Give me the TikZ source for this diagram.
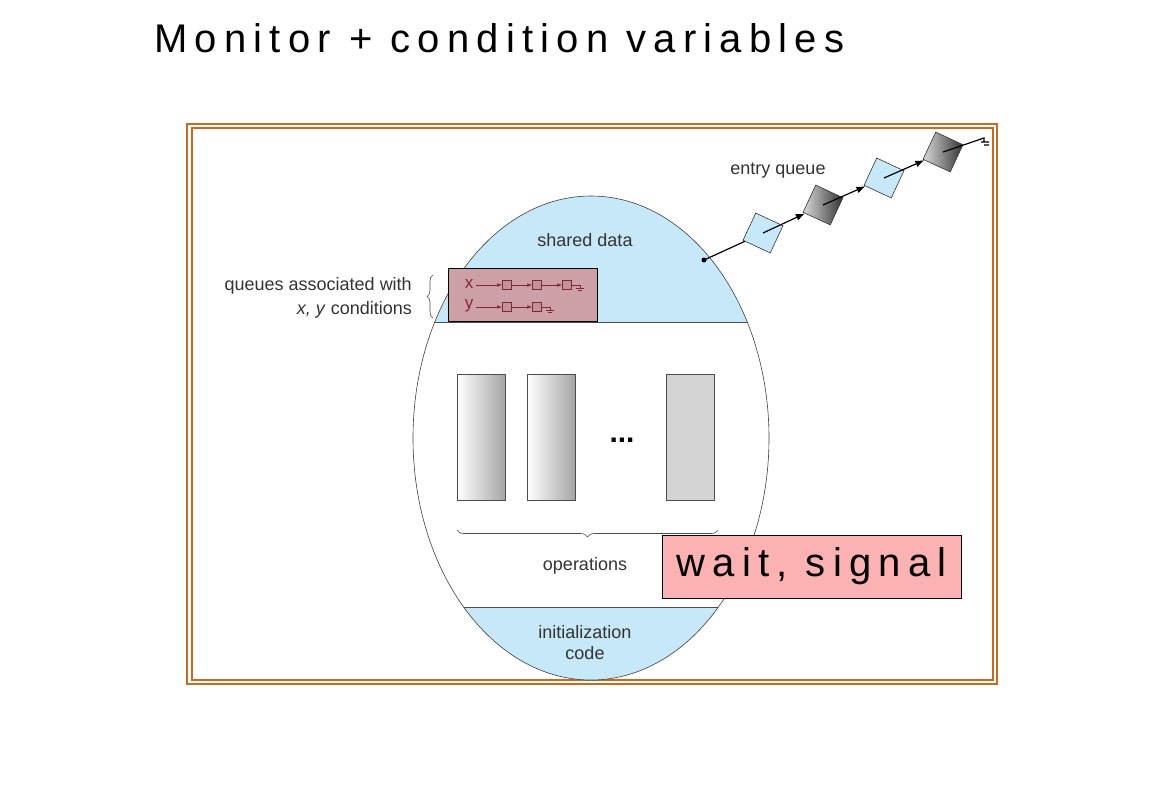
\documentclass[tikz,border=0pt]{standalone}
\usepackage{fontspec}
\setmainfont{Liberation Sans}
\newfontfamily\spaced[LetterSpace=18]{Liberation Sans}
\usetikzlibrary{decorations.pathreplacing,arrows.meta}
\definecolor{lblue}{RGB}{198,232,248}
\definecolor{qpink}{RGB}{205,160,168}
\definecolor{qred}{RGB}{130,40,50}
\definecolor{orng}{RGB}{205,105,30}
\definecolor{wpink}{RGB}{252,178,178}
\begin{document}
\begin{tikzpicture}[x=1pt,y=-1pt,
  lab/.style={font=\fontsize{18}{21}\selectfont, text=black!80, inner sep=0},
  op/.style={draw=black!70, line width=0.6pt, minimum width=48, minimum height=126, inner sep=0},
  eq/.style={draw=black!80, minimum size=30, inner sep=0, rotate=-25, line width=0.6pt},
  qs/.style={draw=qred, fill=qred!50, minimum size=9, inner sep=0, line width=0.5pt},
  qa/.style={-{Latex[length=5pt]}, qred, line width=0.8pt}]
\useasboundingbox (0,0) rectangle (1157,804);
\node[anchor=west, inner sep=0, font=\spaced\fontsize{40}{44}\selectfont] (title) at (154,38) {Monitor + condition variables};
% frame
\draw[orng, line width=1.2pt] (187,124) rectangle (997,684);
\draw[orng, line width=1.2pt] (192,128) rectangle (993,680);
% ellipse
\coordinate (ec) at (591,438);
\begin{scope}
\clip (ec) ellipse [x radius=178, y radius=242];
\fill[white] (ec) ellipse [x radius=178, y radius=242];
\fill[lblue] (400,190) rectangle (780,322);
\fill[lblue] (400,607) rectangle (780,690);
\draw[black!70, line width=0.6pt] (400,322) -- (780,322);
\draw[black!70, line width=0.6pt] (400,607) -- (780,607);
\end{scope}
\draw[black!75, line width=0.6pt] (ec) ellipse [x radius=178, y radius=242];
\node[lab] (sd) at (585,240) {shared data};
\node[lab, align=center] (ic) at (585,643) {initialization\\code};
% operations
\node[op, left color=white, right color=black!35] (o1) at (481,437) {};
\node[op, left color=white, right color=black!35] (o2) at (551,437) {};
\node[op, fill=black!17] (o3) at (690,437) {};
\node[font=\fontsize{30}{30}\selectfont\bfseries, inner sep=0] (dots) at (622,440) {...};
\draw[decorate, decoration={brace, mirror, amplitude=7pt}, black!70, line width=0.6pt] (457,530) -- (718,530);
\node[lab] (ops) at (585,566) {operations};
\node[draw=black, fill=wpink, line width=0.8pt, minimum width=299, minimum height=63, inner sep=0,
  font=\spaced\fontsize{40}{44}\selectfont] (ws) at (811.5,566.5) {wait, signal};
% queues box
\node[draw=black, fill=qpink, line width=1pt, minimum width=149, minimum height=53, inner sep=0] (qb) at (522.5,294.5) {};
\node[font=\fontsize{17}{17}\selectfont, text=qred, inner sep=0] (qx) at (469,284) {x};
\node[font=\fontsize{17}{17}\selectfont, text=qred, inner sep=0] (qy) at (469,306) {y};
\node[qs] (x1) at (507,285) {};
\node[qs] (x2) at (537,285) {};
\node[qs] (x3) at (567,285) {};
\node[qs] (y1) at (507,307) {};
\node[qs] (y2) at (537,307) {};
\draw[qa] (qx.east) ++(3,1) -- (x1);
\draw[qa] (x1) -- (x2);
\draw[qa] (x2) -- (x3);
\draw[qa] (qy.east) ++(3,1) -- (y1);
\draw[qa] (y1) -- (y2);
\draw[qred, line width=0.5pt] (x3.east) -- ++(8,0) -- ++(0,3) ++(-4,0) -- ++(8,0) ++(-6,2) -- ++(4,0);
\draw[qred, line width=0.5pt] (y2.east) -- ++(8,0) -- ++(0,3) ++(-4,0) -- ++(8,0) ++(-6,2) -- ++(4,0);
\node[lab, anchor=east] (qt1) at (412,286) {queues associated with};
\node[lab, anchor=east] (qt2) at (412,310) {\textit{x, y} conditions};
\draw[decorate, decoration={brace, amplitude=6pt}, black!70, line width=0.6pt] (433,318) -- (433,275);
% entry queue
\coordinate (ed) at (704,260);
\fill (ed) circle (2.5);
\node[eq, fill=lblue] (e1) at (763,233) {};
\node[eq, left color=black!15, right color=black!80] (e2) at (823,205) {};
\node[eq, fill=lblue] (e3) at (884,178) {};
\node[eq, left color=black!15, right color=black!80] (e4) at (943,152) {};
\draw[line width=1.2pt] (ed) -- (e1);
\draw[line width=1.2pt, -{Latex[length=9pt,width=7pt]}] (e1.center) -- (e2);
\draw[line width=1.2pt, -{Latex[length=9pt,width=7pt]}] (e2.center) -- (e3);
\draw[line width=1.2pt, -{Latex[length=9pt,width=7pt]}] (e3.center) -- (e4);
\coordinate (eg) at (984,138);
\draw[line width=1.2pt] (e4.center) -- (eg) -- ++(0,4) ++(-3,0) -- ++(8,0) ++(-5,3) -- ++(5,0);
\node[lab] (eql) at (778,171) {entry queue};
\end{tikzpicture}
\end{document}
